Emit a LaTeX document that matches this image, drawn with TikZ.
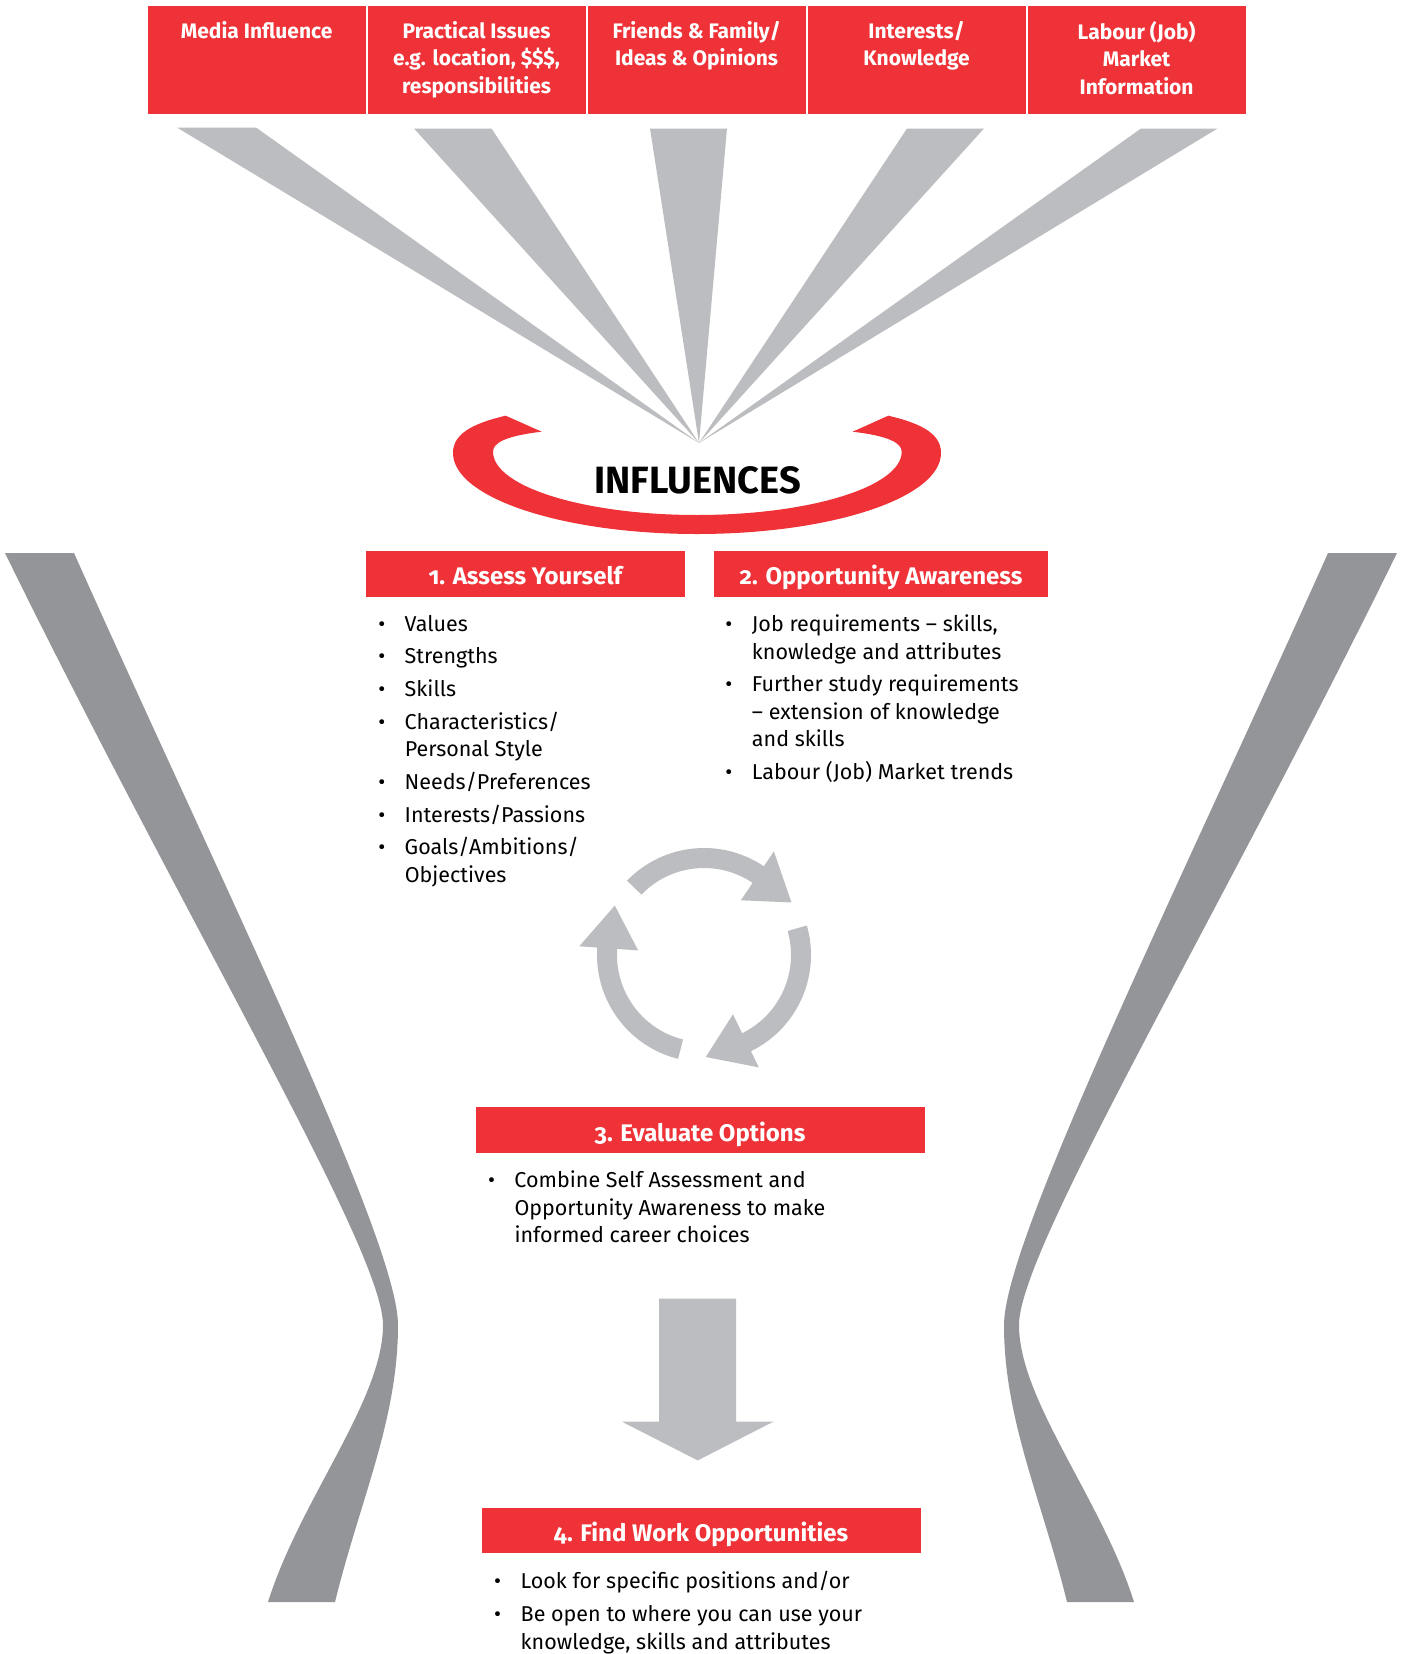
\documentclass[tikz,border=0pt]{standalone}
\usepackage{fontspec}
\setmainfont{Fira Sans}[Numbers=OldStyle]
\usetikzlibrary{positioning}

\definecolor{brandred}{HTML}{EE3237}
\definecolor{raygrey}{HTML}{BCBDC0}
\definecolor{sidegrey}{HTML}{939598}

\newcommand{\bul}{\llap{\textbullet\hspace{19.5pt}}}
\newcommand{\cell}[1]{\parbox[t][78pt][t]{210pt}{\centering #1}}

\begin{document}
\begin{tikzpicture}[x=1pt, y=-1pt, node distance=0pt,
    srcbox/.style={fill=brandred, draw=white, line width=2pt, text=white,
      font=\bfseries\fontsize{21pt}{27.5pt}\selectfont, outer sep=0pt,
      minimum width=220pt, minimum height=109.7pt, inner sep=0pt, anchor=north},
    stepbox/.style={fill=brandred, text=white,
      font=\bfseries\fontsize{24pt}{28pt}\selectfont,
      minimum height=45.4pt, inner sep=0pt, text height=22pt, text depth=0pt},
    itemlist/.style={align=left, inner sep=0pt,
      font=\fontsize{21.5pt}{27.4pt}\selectfont}]
      \path[use as bounding box, fill=white] (0,0) rectangle (1402,1654);

      % Side bands of the funnel
      \foreach \s/\o in {1/0, -1/1402}
          \fill[sidegrey, xshift=\o pt, xscale=\s] (5,553) -- (74,553)
              .. controls (220,880) and (398,1240) .. (398,1325)
              .. controls (398,1420) and (360,1500) .. (335,1602) -- (268,1602)
              .. controls (300,1500) and (383,1400) .. (383,1325)
              .. controls (383,1250) and (190,930) .. (5,553) -- cycle;

      % Influence sources
      \node[srcbox] (src1) at (256.6,5.3) {\cell{Media Influence}};
      \node[srcbox, right=of src1] (src2) {\cell{Practical Issues\\e.g. location, \$\$\$,\\responsibilities}};
      \node[srcbox, right=of src2] (src3) {\cell{Friends \& Family/\\Ideas \& Opinions}};
      \node[srcbox, right=of src3] (src4) {\cell{Interests/\\Knowledge}};
      \node[srcbox, right=of src4] (src5) {\cell{Labour (Job)\\Market\\Information}};

      % Rays into the hub
      \coordinate (hub) at (699,443);
      \foreach \l/\r/\t in {177/256/127.5, 414/491.5/128.5, 650/727/128.5, 907/984/128.5, 1141/1217.5/128.5}
          \fill[raygrey] (\l,\t) -- (\r,\t) -- (hub) -- cycle;

      % Red swoosh round the hub
      \fill[brandred] (505.7,415.7) -- (541.7,431.7)
          .. controls (505,436) and (493,443) .. (493,451.7)
          .. controls (493,486.6) and (584,515) .. (697,515)
          .. controls (810,515) and (901.7,486.6) .. (901.7,451.7)
          .. controls (901.7,443) and (889,436) .. (852.7,431.7) -- (888.3,415.7)
          .. controls (924,424) and (941,435) .. (941,453)
          .. controls (941,497.7) and (831.7,534) .. (697,534)
          .. controls (562.3,534) and (453,497.7) .. (453,453)
          .. controls (453,435) and (470,424) .. (505.7,415.7) -- cycle;
      \node[font=\bfseries\fontsize{38pt}{42pt}\selectfont, inner sep=0pt] (infl) at (697.5,480.5) {INFLUENCES};

      % Steps
      \node[stepbox, minimum width=319.3pt] (step1) at (525.4,573.9) {1. Assess Yourself};
      \node[stepbox, minimum width=334.1pt, right=28.6pt of step1] (step2) {2. Opportunity Awareness};
      \node[stepbox, minimum width=449pt] (step3) at (700,1130) {3. Evaluate Options};
      \node[stepbox, minimum width=439pt] (step4) at (701,1530.5) {4. Find Work Opportunities};

      \node[itemlist, below right=18pt and 39pt of step1.south west] (list1)
          {\bul Values\\[5.3pt] \bul Strengths\\[5.3pt] \bul Skills\\[5.3pt]
           \bul Characteristics/\\Personal Style\\[5.3pt] \bul Needs/Preferences\\[5.3pt]
           \bul Interests/Passions\\[5.3pt] \bul Goals/Ambitions/\\Objectives};
      \node[itemlist, below right=18pt and 37.9pt of step2.south west] (list2)
          {\bul Job requirements -- skills,\\knowledge and attributes\\[5.3pt]
           \bul Further study requirements\\-- extension of knowledge\\and skills\\[5.3pt]
           \bul Labour (Job) Market trends};
      \node[itemlist, below right=18pt and 39pt of step3.south west] (list3)
          {\bul Combine Self Assessment and\\Opportunity Awareness to make\\informed career choices};
      \node[itemlist, below right=18pt and 39.2pt of step4.south west] (list4)
          {\bul Look for specific positions and/or\\[5.3pt]
           \bul Be open to where you can use your\\knowledge, skills and attributes};

      % Cycle arrows
      \begin{scope}[shift={(704,955)}]
          \foreach \a in {-136,-16,104}
              \fill[raygrey] (\a:107) arc[start angle=\a, end angle=\a+80, radius=107]
                  -- (\a+80:125) -- (\a+105:102) -- (\a+80:66) -- (\a+80:87)
                  arc[start angle=\a+80, end angle=\a, radius=87] -- cycle;
      \end{scope}

      % Down arrow
      \fill[raygrey] (659,1298.6) -- (736,1298.6) -- (736,1421.5) -- (773.7,1421.5)
          -- (697.7,1460.4) -- (621.6,1421.5) -- (659,1421.5) -- cycle;
\end{tikzpicture}
\end{document}
